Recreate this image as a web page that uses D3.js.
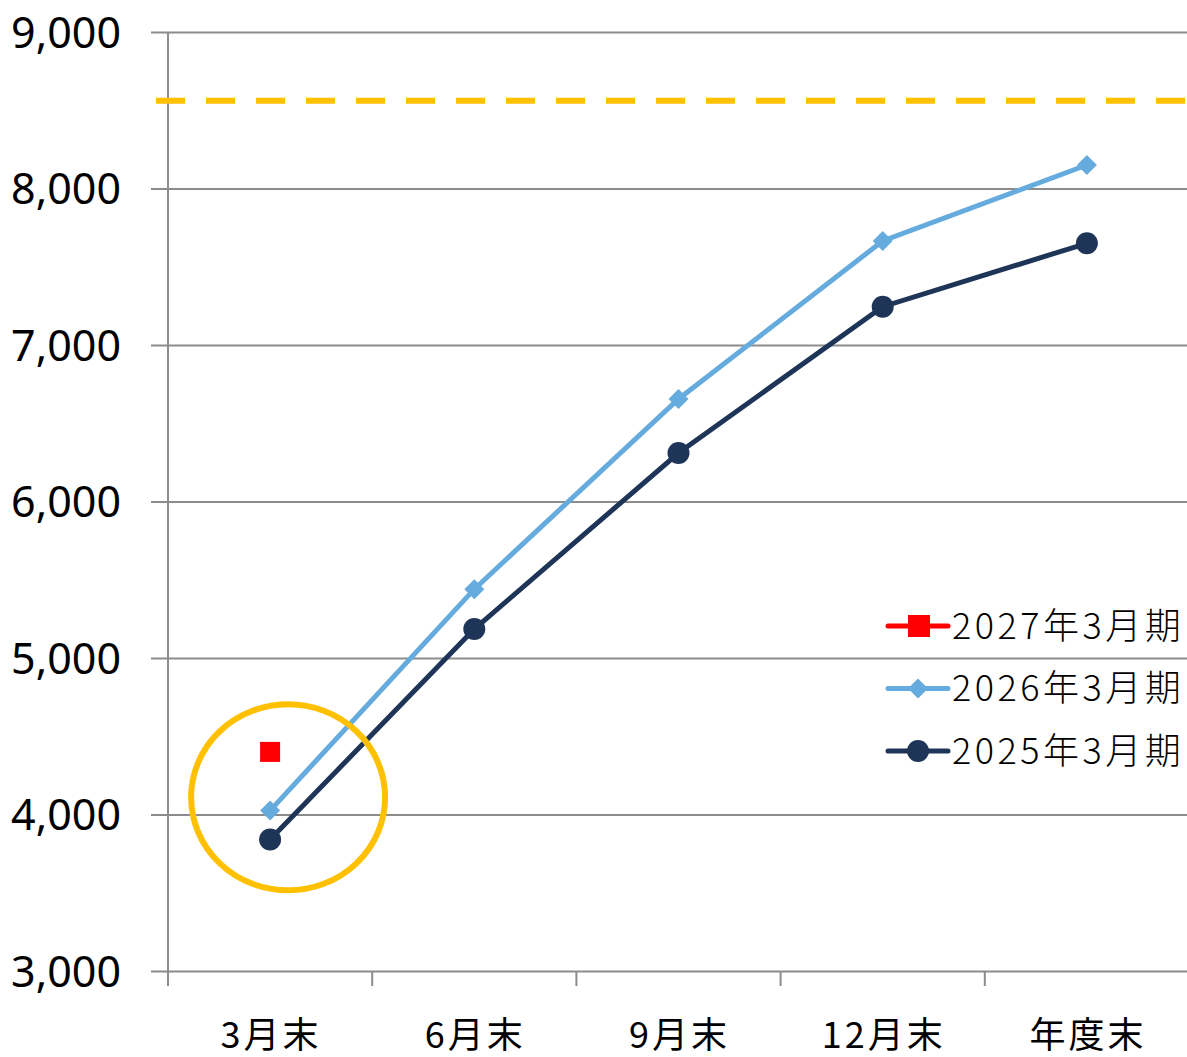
<!DOCTYPE html>
<html lang="ja">
<head>
<meta charset="utf-8">
<title>受注累計</title>
<script src="https://cdn.jsdelivr.net/npm/d3@7"></script>
<style>
  body { margin: 0; background: #fff; }
  svg text { fill: #000; }
</style>
</head>
<body>
<div id="chart"></div>
<script>
// categories and values
var categories = ["3月末", "6月末", "9月末", "12月末", "年度末"];
var fy2025 = [3840, 5185, 6310, 7245, 7650];
var fy2026 = [4025, 5440, 6655, 7665, 8150];
var fy2027 = [4400];
var target = 8560;
var yTicks = [3000, 4000, 5000, 6000, 7000, 8000, 9000];
var legendNames = ["2027年3月期", "2026年3月期", "2025年3月期"];

var width = 1187, height = 1057;
var margin = {top: 32, right: 0, bottom: 86, left: 168};

var svg = d3.select("#chart").append("svg")
    .attr("width", width)
    .attr("height", height);

var x = d3.scaleBand()
    .domain(categories)
    .range([margin.left, 1189])
    .padding(0);

var y = d3.scaleLinear()
    .domain([3000, 9000])
    .range([height - margin.bottom, margin.top]);

var cx = function(i) { return x(categories[i]) + x.bandwidth() / 2; };

// gridlines + y axis
var yAxis = d3.axisLeft(y).tickValues(yTicks).tickFormat(d3.format(",")).tickSize(-(width - margin.left)).tickSizeOuter(0);
var gy = svg.append("g").attr("transform", "translate(" + margin.left + ",0)").call(yAxis);
gy.select(".domain").remove();
gy.selectAll("line").attr("stroke", "#8c8c8c").attr("stroke-width", 2).attr("x1", -17);
gy.selectAll("text")
    .attr("x", -47)
    .attr("dy", "0.36em")
    .style("font-family", "'Noto Sans', 'Open Sans', sans-serif")
    .style("font-size", "43px");

svg.append("line")
    .attr("x1", margin.left).attr("x2", margin.left)
    .attr("y1", margin.top).attr("y2", y(3000) + 15)
    .attr("stroke", "#8c8c8c").attr("stroke-width", 2);

// x axis ticks at category boundaries
var bounds = categories.map(function(c) { return x(c); });
svg.selectAll(".xtick").data(bounds).enter().append("line")
    .attr("x1", function(d) { return d; }).attr("x2", function(d) { return d; })
    .attr("y1", y(3000)).attr("y2", y(3000) + 15)
    .attr("stroke", "#8c8c8c").attr("stroke-width", 2);

svg.selectAll(".xlab").data(categories).enter().append("text")
    .attr("x", function(d, i) { return cx(i) + 1; })
    .attr("y", 1048)
    .attr("text-anchor", "middle")
    .style("font-family", "'Noto Sans CJK JP', sans-serif")
    .style("font-size", "36px")
    .style("letter-spacing", "3px")
    .text(function(d) { return d; });

// target dashed line
svg.append("line")
    .attr("x1", 156).attr("x2", width)
    .attr("y1", y(target)).attr("y2", y(target))
    .attr("stroke", "#FFC000").attr("stroke-width", 6)
    .attr("stroke-dasharray", "29,21");

var line = d3.line()
    .x(function(d, i) { return cx(i); })
    .y(function(d) { return y(d); });

// 2025
svg.append("path").datum(fy2025)
    .attr("d", line).attr("fill", "none")
    .attr("stroke", "#1F3558").attr("stroke-width", 5);
svg.selectAll(".p25").data(fy2025).enter().append("circle")
    .attr("cx", function(d, i) { return cx(i); })
    .attr("cy", function(d) { return y(d); })
    .attr("r", 11).attr("fill", "#1F3558");

// 2026
svg.append("path").datum(fy2026)
    .attr("d", line).attr("fill", "none")
    .attr("stroke", "#65ABDE").attr("stroke-width", 5);
var diamond = d3.symbol().type(d3.symbolSquare).size(200);
svg.selectAll(".p26").data(fy2026).enter().append("path")
    .attr("d", diamond)
    .attr("transform", function(d, i) { return "translate(" + cx(i) + "," + y(d) + ") rotate(45)"; })
    .attr("fill", "#65ABDE");

// 2027
svg.selectAll(".p27").data(fy2027).enter().append("rect")
    .attr("x", function(d, i) { return cx(i) - 10; })
    .attr("y", function(d) { return y(d) - 10; })
    .attr("width", 20).attr("height", 20)
    .attr("fill", "#FF0000");

// highlight ellipse
svg.append("ellipse")
    .attr("cx", cx(0) + 18).attr("cy", y(4110))
    .attr("rx", 97).attr("ry", 93)
    .attr("fill", "none")
    .attr("stroke", "#FFC000").attr("stroke-width", 6);

// legend
var legendColors = ["#FF0000", "#65ABDE", "#1F3558"];
var lg = svg.selectAll(".lg").data(legendNames).enter().append("g")
    .attr("transform", function(d, i) { return "translate(888," + (626 + i * 62.5) + ")"; });
lg.append("line")
    .attr("x1", 0).attr("x2", 60)
    .attr("stroke", function(d, i) { return legendColors[i]; })
    .attr("stroke-width", 5).attr("stroke-linecap", "round");
lg.each(function(d, i) {
  var g = d3.select(this);
  if (i === 0) {
    g.append("rect").attr("x", 20).attr("y", -11).attr("width", 22).attr("height", 22).attr("fill", legendColors[i]);
  } else if (i === 1) {
    g.append("path").attr("d", diamond).attr("transform", "translate(30,0) rotate(45)").attr("fill", legendColors[i]);
  } else {
    g.append("circle").attr("cx", 30).attr("r", 11).attr("fill", legendColors[i]);
  }
});
lg.append("text")
    .attr("x", 64)
    .attr("dy", "0.36em")
    .style("font-family", "'Noto Sans CJK JP', sans-serif")
    .style("font-size", "36px")
    .style("font-weight", 300)
    .style("letter-spacing", "3.5px")
    .text(function(d) { return d; });
</script>
</body>
</html>
